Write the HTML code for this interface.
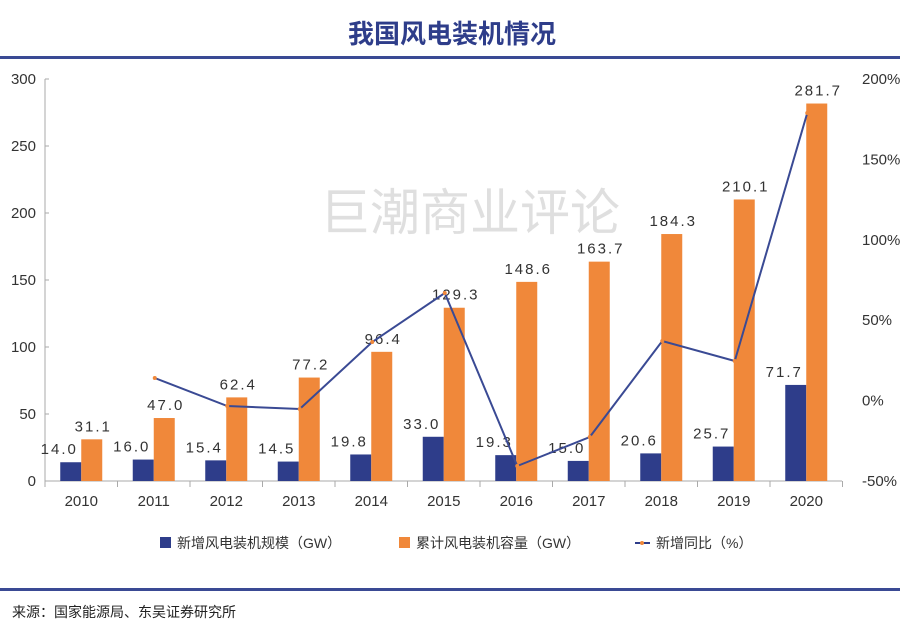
<!DOCTYPE html>
<html><head><meta charset="utf-8"><style>
body{margin:0;background:#fff;}
svg text{font-family:"Liberation Sans","Noto Sans CJK SC",sans-serif;}
</style></head><body>
<svg id="s" width="900" height="631" viewBox="0 0 900 631" xmlns="http://www.w3.org/2000/svg">
<rect width="900" height="631" fill="#fff"/>
<text x="452" y="43" text-anchor="middle" font-size="26" font-weight="bold" fill="#2e3d8a">我国风电装机情况</text>
<rect x="0" y="56" width="900" height="3" fill="#3a4a94"/>
<rect x="0" y="588" width="900" height="3" fill="#3a4a94"/>
<text x="470" y="230" text-anchor="middle" font-size="50" fill="#d8d8d8" opacity="0.8">巨潮商业评论</text>
<g id="g"></g>
<g font-size="14" fill="#333">
<rect x="160" y="537" width="11" height="11" fill="#2e3d8a"/>
<text x="177" y="548">新增风电装机规模（GW）</text>
<rect x="399" y="537" width="11" height="11" fill="#f0883a"/>
<text x="416" y="548">累计风电装机容量（GW）</text>
<line x1="635" y1="543" x2="650" y2="543" stroke="#2e3d8a" stroke-width="2"/>
<circle cx="642" cy="543" r="2" fill="#f0883a"/>
<text x="656" y="548">新增同比（%）</text>
</g>
<text x="12" y="617" font-size="14" fill="#222">来源：国家能源局、东吴证券研究所</text>
</svg>
<script>
var g=document.getElementById('g'),h='';
var blue=[14.0,16.0,15.4,14.5,19.8,33.0,19.3,15.0,20.6,25.7,71.7];
var org=[31.1,47.0,62.4,77.2,96.4,129.3,148.6,163.7,184.3,210.1,281.7];
var ly=[null,378,406,409,342,293,466,437,341,361,113];
function Y(v){return 481-v*1.34;}
h+='<line x1="45" y1="79" x2="45" y2="481" stroke="#aaa"/>';
h+='<line x1="45" y1="481" x2="842" y2="481" stroke="#aaa"/>';
for(var k=0;k<=6;k++){var yy=481-k*67;h+='<line x1="45" y1="'+yy+'" x2="49" y2="'+yy+'" stroke="#aaa"/>';
h+='<text x="36" y="'+(yy+5)+'" text-anchor="end" font-size="15" fill="#333">'+(k*50)+'</text>';}
for(var k=0;k<=5;k++){var yy=481-k*80.4;
h+='<text x="862" y="'+(yy+5)+'" font-size="15" fill="#333">'+(k*50-50)+'%</text>';}
for(var i=0;i<=11;i++){var xx=45+i*72.5;h+='<line x1="'+xx+'" y1="481" x2="'+xx+'" y2="487" stroke="#aaa"/>';}
var pts=[];
for(var i=0;i<11;i++){var c=45+(i+0.5)*72.5;
h+='<rect x="'+(c-21)+'" y="'+Y(blue[i])+'" width="21" height="'+(blue[i]*1.34)+'" fill="#2e3d8a"/>';
h+='<rect x="'+c+'" y="'+Y(org[i])+'" width="21" height="'+(org[i]*1.34)+'" fill="#f0883a"/>';
h+='<text x="'+(c-22)+'" y="'+(Y(blue[i])-8)+'" text-anchor="middle" font-size="15" fill="#333" letter-spacing="2">'+blue[i].toFixed(1)+'</text>';
h+='<text x="'+(c+12)+'" y="'+(Y(org[i])-8)+'" text-anchor="middle" font-size="15" fill="#333" letter-spacing="2">'+org[i].toFixed(1)+'</text>';
h+='<text x="'+c+'" y="506" text-anchor="middle" font-size="15" fill="#333">'+(2010+i)+'</text>';
if(ly[i]!==null)pts.push((c+1)+','+ly[i]);}
h+='<polyline points="'+pts.join(' ')+'" fill="none" stroke="#3a4a94" stroke-width="2"/>';
pts.forEach(function(p){var a=p.split(',');h+='<circle cx="'+a[0]+'" cy="'+a[1]+'" r="2" fill="#f0883a"/>';});
g.innerHTML=h;
</script>
</body></html>
